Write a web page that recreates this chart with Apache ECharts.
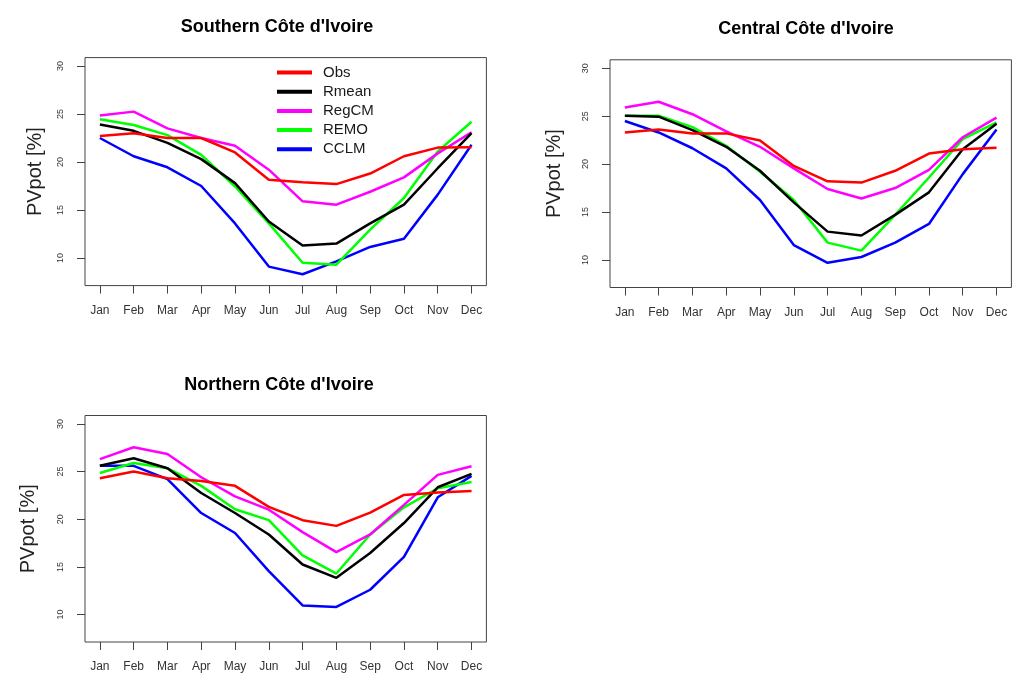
<!DOCTYPE html>
<html>
<head>
<meta charset="utf-8">
<script src="https://cdn.jsdelivr.net/npm/echarts@6/dist/echarts.min.js"></script>
<style>
html,body{margin:0;padding:0;background:#fff;}
#c{width:1015px;height:673px;}
</style>
</head>
<body>
<div id="c"></div>
<script>
const months = ['Jan','Feb','Mar','Apr','May','Jun','Jul','Aug','Sep','Oct','Nov','Dec'];
const yTicks = [10, 15, 20, 25, 30];
const seriesNames = ['Obs','Rmean','RegCM','REMO','CCLM'];
const seriesColors = ['#ff0000','#000000','#ff00ff','#00ff00','#0000ff'];

// Southern Côte d'Ivoire
const southObs   = [22.7, 23.0, 22.5, 22.5, 21.0, 18.15, 17.9, 17.7, 18.8, 20.6, 21.5, 21.55];
const southRmean = [23.9, 23.25, 22.0, 20.3, 17.8, 13.8, 11.3, 11.5, 13.6, 15.55, 19.35, 23.0];
const southRegCM = [24.85, 25.25, 23.5, 22.5, 21.7, 19.2, 15.9, 15.55, 16.9, 18.4, 20.9, 23.1];
const southREMO  = [24.45, 23.85, 22.8, 20.75, 17.45, 13.6, 9.5, 9.3, 12.95, 16.25, 21.1, 24.2];
const southCCLM  = [22.5, 20.6, 19.45, 17.5, 13.6, 9.1, 8.3, 9.65, 11.15, 12.0, 16.6, 21.8];

// Central Côte d'Ivoire
const centralObs   = [23.3, 23.6, 23.2, 23.2, 22.45, 19.8, 18.2, 18.07, 19.3, 21.1, 21.55, 21.7];
const centralRmean = [25.05, 24.95, 23.55, 21.8, 19.3, 16.0, 12.95, 12.55, 14.7, 17.05, 21.55, 24.2];
const centralRegCM = [25.9, 26.5, 25.2, 23.4, 21.8, 19.55, 17.4, 16.4, 17.5, 19.4, 22.8, 24.85];
const centralREMO  = [25.05, 25.05, 23.85, 21.9, 19.2, 16.25, 11.8, 10.97, 14.7, 18.6, 22.6, 24.35];
const centralCCLM  = [24.5, 23.3, 21.65, 19.55, 16.25, 11.55, 9.7, 10.3, 11.8, 13.75, 18.95, 23.6];

// Northern Côte d'Ivoire
const northObs   = [24.3, 25.0, 24.3, 24.0, 23.5, 21.3, 19.9, 19.3, 20.7, 22.55, 22.8, 22.95];
const northRmean = [25.6, 26.4, 25.35, 22.75, 20.65, 18.4, 15.25, 13.85, 16.45, 19.6, 23.35, 24.75];
const northRegCM = [26.3, 27.55, 26.85, 24.4, 22.4, 21.0, 18.65, 16.55, 18.4, 21.5, 24.65, 25.55];
const northREMO  = [24.85, 25.9, 25.35, 23.5, 21.05, 19.9, 16.2, 14.3, 18.4, 21.25, 23.25, 23.9];
const northCCLM  = [25.6, 25.6, 24.2, 20.65, 18.55, 14.55, 10.95, 10.8, 12.6, 16.05, 22.3, 24.55];

const panels = [
  {title: "Southern Côte d'Ivoire", data: [southObs, southRmean, southRegCM, southREMO, southCCLM],
   grid: {left: 85, top: 57.6, width: 401.4, height: 228}, tx: 277, ty: 26.7, nameGap: 40},
  {title: "Central Côte d'Ivoire", data: [centralObs, centralRmean, centralRegCM, centralREMO, centralCCLM],
   grid: {left: 610, top: 59.8, width: 401.4, height: 227.7}, tx: 806, ty: 28.7, nameGap: 46},
  {title: "Northern Côte d'Ivoire", data: [northObs, northRmean, northRegCM, northREMO, northCCLM],
   grid: {left: 85, top: 415.5, width: 401.4, height: 227}, tx: 279, ty: 384.7, nameGap: 47}
];

const FONT = 'Liberation Sans, Arial, sans-serif';
const grids = [], xAxes = [], yAxes = [], series = [], graphics = [];
panels.forEach((p, gi) => {
  grids.push(Object.assign({show: true, borderColor: '#444', borderWidth: 1, backgroundColor: 'transparent', containLabel: false}, p.grid));
  xAxes.push({
    type: 'value', gridIndex: gi, min: 0.56, max: 12.44,
    axisLine: {show: false},
    splitLine: {show: false},
    axisTick: {show: true, inside: false, length: 8, lineStyle: {color: '#444', width: 1}, customValues: months.map((m, i) => i + 1)},
    axisLabel: {show: true, margin: 19, fontSize: 12, fontFamily: FONT, color: '#333',
      customValues: months.map((m, i) => i + 1),
      formatter: v => months[Math.round(v) - 1] || ''}
  });
  yAxes.push({
    type: 'value', gridIndex: gi, min: 7.12, max: 30.88,
    name: 'PVpot [%]', nameLocation: 'middle', nameGap: p.nameGap,
    nameTextStyle: {fontSize: 20, fontFamily: FONT, color: '#222'},
    axisLine: {show: false},
    splitLine: {show: false},
    axisTick: {show: true, inside: false, length: 8, lineStyle: {color: '#444', width: 1}, customValues: yTicks},
    axisLabel: {show: true, rotate: 90, margin: 20, fontSize: 9, fontFamily: FONT, color: '#333', customValues: yTicks}
  });
  p.data.forEach((vals, si) => {
    series.push({
      name: seriesNames[si], type: 'line', xAxisIndex: gi, yAxisIndex: gi,
      data: vals.map((v, i) => [i + 1, v]),
      symbol: 'none', showSymbol: false, smooth: false,
      lineStyle: {color: seriesColors[si], width: 2.5},
      itemStyle: {color: seriesColors[si]},
      z: 10 - si
    });
  });
  graphics.push({
    type: 'text', x: p.tx, y: p.ty,
    style: {text: p.title, fontSize: 18, fontWeight: 'bold', fontFamily: FONT, fill: '#000',
            textAlign: 'center', textVerticalAlign: 'middle'}
  });
});

const chart = echarts.init(document.getElementById('c'), null, {renderer: 'canvas'});
chart.setOption({
  animation: false,
  backgroundColor: '#fff',
  grid: grids,
  xAxis: xAxes,
  yAxis: yAxes,
  series: series,
  graphic: graphics,
  legend: {
    data: seriesNames,
    orient: 'vertical', left: 272, top: 60,
    icon: 'rect', itemWidth: 35, itemHeight: 4, itemGap: 4.2,
    textStyle: {fontSize: 15, fontFamily: FONT, color: '#1a1a1a', lineHeight: 15, padding: [0, 0, 0, 6]},
    selectedMode: false
  }
});
</script>
</body>
</html>
